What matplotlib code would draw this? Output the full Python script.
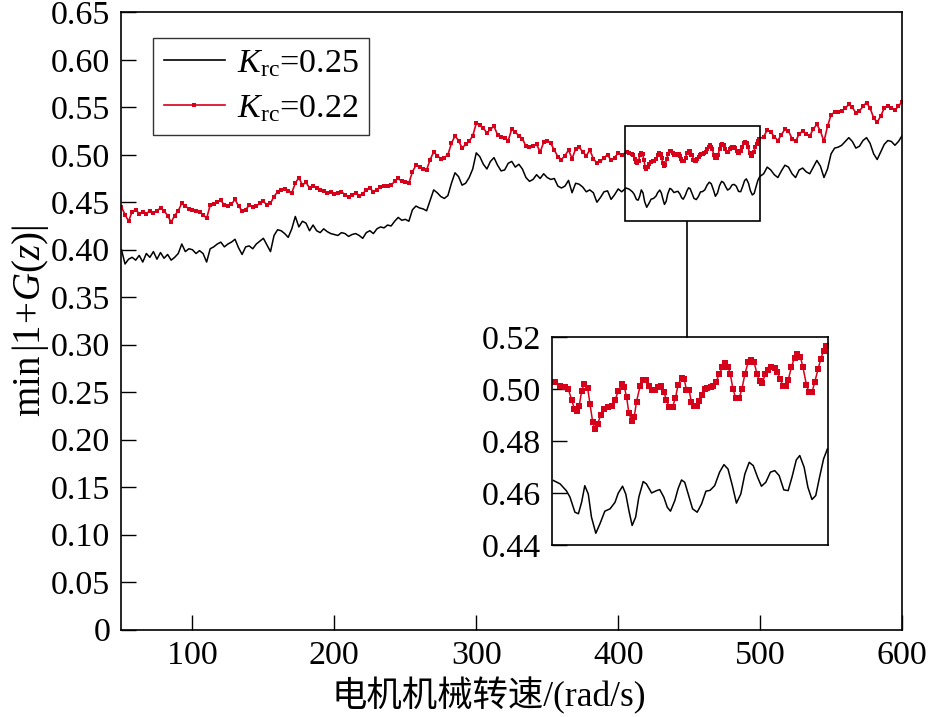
import numpy as np
import matplotlib
matplotlib.use("Agg")
import matplotlib.pyplot as plt
from matplotlib.patches import Rectangle

plt.rcParams['font.family'] = ['Liberation Serif', 'Noto Sans CJK SC']
plt.rcParams['mathtext.fontset'] = 'custom'
plt.rcParams['mathtext.rm'] = 'Liberation Serif'
plt.rcParams['mathtext.it'] = 'Liberation Serif:italic'

# ---------------- data ----------------
x_pre = np.arange(50, 403, 2.5)      # 50 ... 402.5
x_post = np.arange(502.5, 600.1, 2.5)  # 502.5 ... 600

black_pre = [0.400, 0.385, 0.390, 0.392, 0.389, 0.394, 0.387, 0.396, 0.392, 0.398,
             0.390, 0.397, 0.391, 0.395, 0.389, 0.392, 0.396, 0.406, 0.398, 0.401,
             0.400, 0.396, 0.399, 0.396, 0.387, 0.401, 0.403, 0.406, 0.408, 0.403,
             0.406, 0.408, 0.411, 0.402, 0.395, 0.403, 0.404, 0.401, 0.406, 0.409,
             0.412, 0.405, 0.398, 0.415, 0.421, 0.420, 0.417, 0.413, 0.422, 0.435,
             0.424, 0.430, 0.428, 0.420, 0.426, 0.420, 0.418, 0.422, 0.419, 0.417,
             0.416, 0.415, 0.418, 0.417, 0.414, 0.416, 0.417, 0.415, 0.412, 0.418,
             0.420, 0.417, 0.422, 0.424, 0.423, 0.426, 0.425, 0.430, 0.434, 0.431,
             0.432, 0.430, 0.442, 0.446, 0.444, 0.443, 0.441, 0.452, 0.463, 0.460,
             0.456, 0.454, 0.457, 0.470, 0.481, 0.477, 0.468, 0.470, 0.476, 0.485,
             0.502, 0.498, 0.490, 0.485, 0.493, 0.497, 0.489, 0.483, 0.484, 0.491,
             0.493, 0.487, 0.490, 0.485, 0.476, 0.472, 0.474, 0.479, 0.475, 0.480,
             0.476, 0.474, 0.475, 0.467, 0.465, 0.467, 0.473, 0.460, 0.470, 0.469,
             0.466, 0.461, 0.463, 0.460, 0.450, 0.455, 0.461, 0.462, 0.453, 0.458,
             0.464, 0.461]

red_pre = [0.445, 0.437, 0.430, 0.440, 0.442, 0.438, 0.440, 0.438, 0.441, 0.439,
           0.441, 0.444, 0.441, 0.436, 0.429, 0.436, 0.441, 0.449, 0.446, 0.443,
           0.442, 0.441, 0.440, 0.437, 0.433, 0.447, 0.448, 0.450, 0.452, 0.447,
           0.446, 0.448, 0.453, 0.446, 0.441, 0.442, 0.447, 0.445, 0.446, 0.449,
           0.451, 0.447, 0.449, 0.456, 0.461, 0.463, 0.464, 0.462, 0.460, 0.470,
           0.476, 0.468, 0.471, 0.465, 0.467, 0.465, 0.463, 0.462, 0.460, 0.461,
           0.459, 0.460, 0.461, 0.458, 0.455, 0.458, 0.460, 0.457, 0.459, 0.463,
           0.465, 0.461, 0.463, 0.466, 0.467, 0.467, 0.468, 0.472, 0.475, 0.472,
           0.471, 0.470, 0.482, 0.489, 0.487, 0.485, 0.484, 0.495, 0.503, 0.499,
           0.496, 0.497, 0.500, 0.512, 0.520, 0.515, 0.507, 0.511, 0.514, 0.520,
           0.533, 0.531, 0.528, 0.523, 0.527, 0.530, 0.521, 0.519, 0.518, 0.515,
           0.527, 0.524, 0.520, 0.517, 0.509, 0.508, 0.509, 0.511, 0.503, 0.513,
           0.515, 0.512, 0.505, 0.498, 0.495, 0.499, 0.505, 0.496, 0.506, 0.508,
           0.503, 0.499, 0.505, 0.496, 0.491, 0.493, 0.497, 0.500, 0.494, 0.497,
           0.502, 0.500]

black_post = [0.480, 0.487, 0.484, 0.479, 0.476, 0.483, 0.489, 0.487, 0.480, 0.476,
              0.484, 0.486, 0.482, 0.480, 0.487, 0.494, 0.488, 0.476, 0.485, 0.501,
              0.507, 0.508, 0.510, 0.514, 0.518, 0.514, 0.507, 0.509, 0.515, 0.518,
              0.512, 0.501, 0.495, 0.503, 0.511, 0.515, 0.514, 0.510, 0.514, 0.520]

red_post = [0.519, 0.526, 0.524, 0.519, 0.515, 0.521, 0.527, 0.525, 0.517, 0.514,
            0.522, 0.525, 0.522, 0.520, 0.527, 0.532, 0.525, 0.514, 0.530, 0.542,
            0.545, 0.545, 0.546, 0.549, 0.553, 0.550, 0.544, 0.546, 0.551, 0.555,
            0.549, 0.539, 0.534, 0.541, 0.549, 0.551, 0.549, 0.547, 0.551, 0.556]

# detailed readings in the zoomed window (405-500 rad/s)
zx_black = [405.5, 407.8, 410.0, 411.2, 412.9, 414.1, 415.2, 416.3, 417.5, 418.6,
            420.1, 421.5, 423.2, 425.0, 426.7, 427.8, 429.3, 430.4, 431.6, 432.6,
            433.8, 434.9, 436.4, 437.5, 439.3, 441.0, 442.1, 443.5, 444.7, 445.8,
            447.3, 448.4, 449.6, 450.7, 451.9, 453.4, 455.0, 456.5, 458.0, 459.4,
            461.0, 462.7, 464.2, 465.6, 467.1, 468.5, 470.0, 471.4, 472.9, 474.3,
            475.8, 477.1, 478.6, 480.2, 481.7, 483.2, 484.8, 486.3, 487.6, 489.1,
            490.3, 491.8, 493.1, 494.5, 495.8, 497.1, 498.5, 499.8]
zy_black = [0.4650, 0.4637, 0.4610, 0.4586, 0.4528, 0.4522, 0.4566, 0.4630, 0.4598, 0.4509,
            0.4447, 0.4483, 0.4532, 0.4541, 0.4566, 0.4601, 0.4628, 0.4598, 0.4528, 0.4477,
            0.4509, 0.4586, 0.4646, 0.4637, 0.4602, 0.4611, 0.4615, 0.4586, 0.4547, 0.4532,
            0.4573, 0.4618, 0.4652, 0.4643, 0.4598, 0.4541, 0.4528, 0.4560, 0.4609, 0.4612,
            0.4630, 0.4682, 0.4711, 0.4694, 0.4630, 0.4563, 0.4598, 0.4675, 0.4720, 0.4707,
            0.4662, 0.4628, 0.4643, 0.4682, 0.4688, 0.4669, 0.4614, 0.4611, 0.4662, 0.4729,
            0.4746, 0.4701, 0.4624, 0.4577, 0.4592, 0.4662, 0.4733, 0.4771]

zx_red = [406.0, 407.8, 409.5, 410.6, 411.8, 412.7, 413.5, 414.4, 415.2, 416.1,
          417.3, 418.1, 419.0, 419.8, 420.7, 421.8, 423.0, 424.4, 425.5, 426.7,
          427.8, 429.0, 429.9, 430.7, 431.5, 432.4, 433.3, 434.1, 435.3, 436.4,
          437.3, 438.3, 439.3, 440.4, 441.6, 442.5, 443.5, 444.4, 445.3, 446.5,
          447.5, 448.4, 449.6, 450.5, 451.3, 452.2, 453.0, 453.9, 455.0, 455.7,
          456.7, 457.6, 458.5, 459.6, 460.5, 461.6, 462.5, 463.7, 464.6, 465.6,
          466.4, 467.3, 468.3, 469.4, 470.4, 471.4, 472.5, 473.4, 474.6, 475.6,
          476.5, 477.3, 478.5, 479.4, 480.5, 481.7, 482.6, 483.6, 484.5, 485.4,
          486.3, 487.4, 488.5, 489.5, 490.5, 491.4, 492.6, 493.5, 494.5, 495.4,
          496.6, 497.5, 498.5, 499.4]
zy_red = [0.5027, 0.5014, 0.5008, 0.5002, 0.4960, 0.4925, 0.4916, 0.4938, 0.4993, 0.5023,
          0.5004, 0.4944, 0.4876, 0.4848, 0.4867, 0.4902, 0.4925, 0.4934, 0.4938, 0.4959,
          0.4993, 0.5021, 0.5010, 0.4970, 0.4908, 0.4880, 0.4893, 0.4953, 0.5012, 0.5036,
          0.5036, 0.5014, 0.4999, 0.4999, 0.5008, 0.5012, 0.4991, 0.4960, 0.4934, 0.4934,
          0.4966, 0.5018, 0.5044, 0.5040, 0.4999, 0.4999, 0.4950, 0.4938, 0.4938, 0.4957,
          0.4980, 0.5002, 0.5004, 0.5008, 0.5014, 0.5030, 0.5059, 0.5085, 0.5101, 0.5087,
          0.5059, 0.5002, 0.4966, 0.4966, 0.5002, 0.5059, 0.5104, 0.5113, 0.5104, 0.5059,
          0.5031, 0.5025, 0.5059, 0.5075, 0.5085, 0.5082, 0.5066, 0.5040, 0.5014, 0.5014,
          0.5036, 0.5085, 0.5123, 0.5136, 0.5126, 0.5085, 0.5018, 0.4989, 0.4989, 0.5027,
          0.5078, 0.5117, 0.5149, 0.5168]

labels = [r'$K_{\mathrm{rc}}$=0.25', r'$K_{\mathrm{rc}}$=0.22']
x_ticks = [100, 200, 300, 400, 500, 600]
y_ticks = np.round(np.arange(0, 0.651, 0.05), 2)
inset_yticks = [0.44, 0.46, 0.48, 0.50, 0.52]

# full series
x_black = np.concatenate([x_pre, zx_black, x_post])
y_black = np.concatenate([black_pre, zy_black, black_post])
x_red = np.concatenate([x_pre, zx_red, x_post])
y_red = np.concatenate([red_pre, zy_red, red_post])

RED = '#d7001a'

fig = plt.figure(figsize=(9.33, 7.17), dpi=100)
ax = fig.add_axes([0.1302, 0.1220, 0.8366, 0.8608])

ax.plot(x_black, y_black, color='black', lw=1.1, label=labels[0])
ax.plot(x_red, y_red, color=RED, lw=1.2, marker='s', markersize=3.0,
        markeredgewidth=0, label=labels[1])

ax.set_xlim(50, 600)
ax.set_ylim(0, 0.65)
ax.set_xticks(x_ticks)
ax.set_yticks(y_ticks)
ax.set_yticklabels(['0' if v == 0 else f'{v:.2f}' for v in y_ticks])
ax.tick_params(direction='in', length=11, width=1.0, labelsize=24.5,
               top=False, right=False, pad=8)
for s in ax.spines.values():
    s.set_linewidth(1.2)

ax.set_xlabel('电机机械转速/(rad/s)', fontsize=25.5, labelpad=4)
ax.xaxis.label.set_x(0.47)
ax.set_ylabel(r'$\mathrm{min}\,|1\!+\!G(z)|$', fontsize=28, labelpad=0)

leg = ax.legend(loc='upper left', bbox_to_anchor=(0.041, 0.958), fontsize=24.5,
                frameon=True, fancybox=False, handlelength=1.8, handletextpad=0.35,
                borderpad=0.3, labelspacing=0.42, borderaxespad=0)
leg.get_frame().set_edgecolor('black')
leg.get_frame().set_linewidth(1.0)
for h in leg.legend_handles:
    h.set_linewidth(1.2)

# zoom rectangle in main axes
ax.add_patch(Rectangle((405, 0.43), 95, 0.10, fill=False, ec='black', lw=1.2, zorder=5))

# inset
axin = fig.add_axes([0.5916, 0.2392, 0.2958, 0.2901])
axin.plot(zx_black, zy_black, color='black', lw=1.1)
axin.plot(zx_red, zy_red, color=RED, lw=1.1, marker='s', markersize=4.2,
          markeredgewidth=0)
axin.set_xlim(405, 500)
axin.set_ylim(0.44, 0.52)
axin.set_xticks([])
axin.set_yticks(inset_yticks)
axin.set_yticklabels([f'{v:.2f}' for v in inset_yticks])
axin.tick_params(axis='y', direction='in', length=11, width=1.0, labelsize=24.5,
                 right=False, pad=8)
for s in axin.spines.values():
    s.set_linewidth(1.2)

# connector from inset to rectangle
axin.plot([0.49, 0.49], [1.0, 1.555], transform=axin.transAxes, color='black',
          lw=1.2, clip_on=False)

fig.savefig('out.png', dpi=100)
